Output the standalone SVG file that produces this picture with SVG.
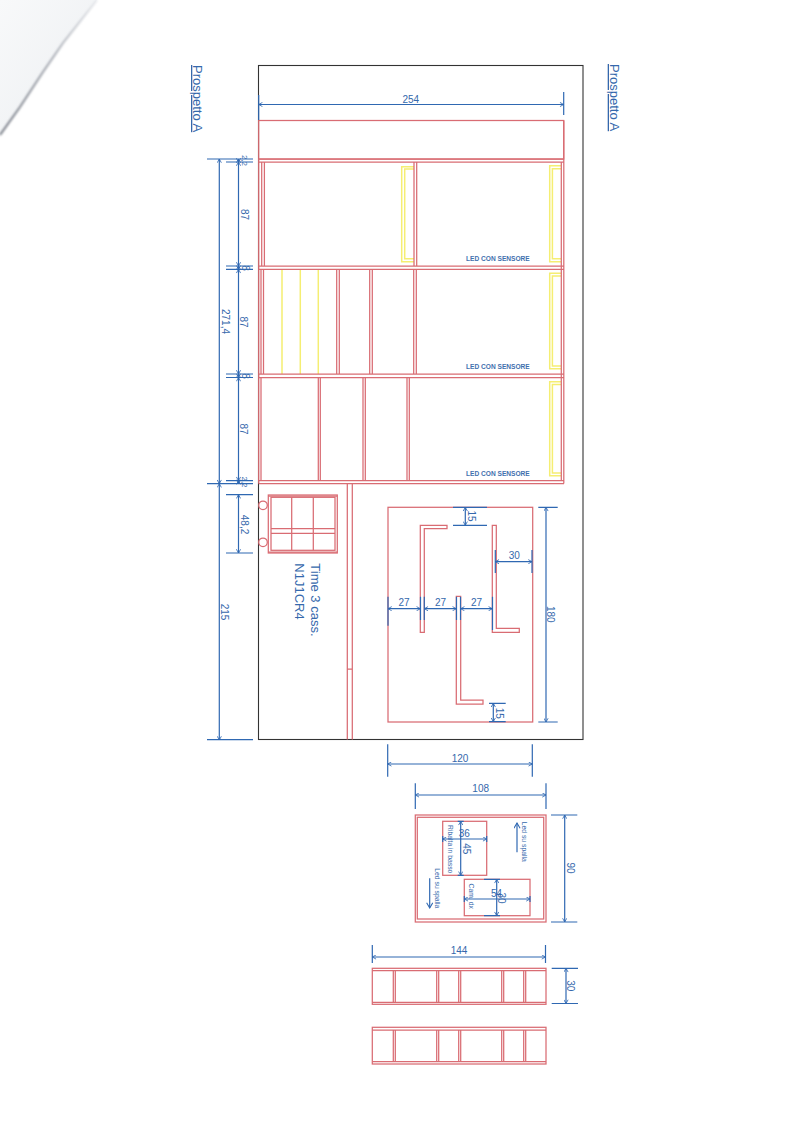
<svg xmlns="http://www.w3.org/2000/svg" width="794" height="1122" viewBox="0 0 794 1122">
<style>
.r{fill:none;stroke:#d96c73;stroke-width:1.25}
.y{fill:none;stroke:#f5ee72;stroke-width:1.5}
.k{fill:none;stroke:#333;stroke-width:1.1}
.d{fill:none;stroke:#2f68b2;stroke-width:1.2}
.dl{fill:none;stroke:#2f68b2;stroke-width:1.2;marker-start:url(#a);marker-end:url(#a)}
text{font-family:"Liberation Sans",Arial,sans-serif;fill:#3568ac}
.n{font-size:10px;text-anchor:middle}
.t{font-size:8px;text-anchor:middle}
.s{font-size:6.8px}
.led{font-size:6.6px;font-weight:bold;fill:#3f70ae}
.big{font-size:13px}
</style>
<defs>
<marker id="a" viewBox="0 0 6 6" refX="5.5" refY="3" markerWidth="5" markerHeight="5" orient="auto-start-reverse" markerUnits="userSpaceOnUse"><path d="M1 .5L5.5 3L1 5.5" fill="none" stroke="#2f68b2" stroke-width="1"/></marker>
<marker id="h" viewBox="0 0 8 8" refX="7" refY="4" markerWidth="7" markerHeight="7" orient="auto" markerUnits="userSpaceOnUse"><path d="M1 .5L7 4L1 7.5" fill="none" stroke="#2f68b2" stroke-width="1.2"/></marker>
<linearGradient id="sheet" x1="0" y1="0" x2="1" y2="1"><stop offset="0" stop-color="#f8f9fa"/><stop offset=".6" stop-color="#f1f3f5"/><stop offset="1" stop-color="#e6e8ec"/></linearGradient>
<linearGradient id="edge" gradientUnits="userSpaceOnUse" x1="0" y1="135" x2="97" y2="0"><stop offset="0" stop-color="#70757f"/><stop offset=".6" stop-color="#a9adb5"/><stop offset="1" stop-color="#e4e6ea"/></linearGradient>
<filter id="b" x="-30%" y="-30%" width="160%" height="160%"><feGaussianBlur stdDeviation="1.3"/></filter>
</defs>
<rect width="794" height="1122" fill="#fff"/>
<g id="scan-fold">
<path d="M0 0H97L63 43L43 72L20 107L0 135Z" fill="url(#sheet)"/>
<path d="M0 135L20 107L43 72L63 43L97 0" fill="none" stroke="url(#edge)" stroke-width="2" filter="url(#b)"/>
</g>
<g id="frame"><rect class="k" x="258.5" y="65.5" width="324.5" height="674"/></g>

<g id="led-strips">
<path class="y" d="M414 166.7H401.7V261.7H414M414 169H404.7V258.7H414"/>
<path class="y" d="M561 165.7H549.7V261.7H561M561 168.7H552.4V258.7H561"/>
<path class="y" d="M561 273.3H549.7V368.7H561M561 276H552.4V366H561"/>
<path class="y" d="M561 381.7H549.7V475.7H561M561 384.5H552.4V473H561"/>
<path class="y" d="M282 269.3V374M300.3 269.3V374M318.3 269.3V374"/>
</g>
<g id="upper-cabinet">
<rect class="r" x="258.7" y="120.5" width="305" height="38.5"/>
<path class="r" d="M258.7 159H564M258.7 162H564M258.7 266H564M258.7 269.3H564M258.7 374H564M258.7 377.5H564M258.7 480.7H564M258.7 483.5H564"/>
<path class="r" d="M258.7 159V483.5M563.8 120.5V483.5M561.3 162V480.7"/>
<path class="r" d="M261.7 162V266M264.4 162V266M414 162V266M416.7 162V266"/>
<path class="r" d="M261 269.3V374M263.5 269.3V374M336.7 269.3V374M339.3 269.3V374M369.7 269.3V374M372.3 269.3V374M413.7 269.3V374M416.3 269.3V374"/>
<path class="r" d="M261 377.5V480.7M318.3 377.5V480.7M320.3 377.5V480.7M363 377.5V480.7M365.3 377.5V480.7M407 377.5V480.7M409.3 377.5V480.7"/>
</g>
<g id="led-labels">
<text class="led" x="466" y="260.5">LED CON SENSORE</text>
<text class="led" x="466" y="368.5">LED CON SENSORE</text>
<text class="led" x="466" y="476">LED CON SENSORE</text>
</g>

<g id="lower-partition">
<path class="r" d="M347.3 483.5V739.5M352.3 483.5V739.5M347.3 669H352.3"/>
</g>
<g id="drawer-unit">
<rect class="r" x="268.3" y="495" width="69" height="58"/>
<rect class="r" x="271" y="497.3" width="64" height="53"/>
<path class="r" d="M268.3 496.2H337.3M268.3 552H337.3"/>
<path class="r" d="M291.7 497.3V550.3M313.3 497.3V550.3M271 528.7H335M271 533.3H335"/>
<circle class="r" cx="263" cy="505.3" r="4.3"/>
<circle class="r" cx="263" cy="542.3" r="4.3"/>
<text class="big" transform="translate(310.5 563.3) rotate(90)">Time 3 cass.</text>
<text class="big" transform="translate(295 563.3) rotate(90)">N1J1CR4</text>
</g>

<g id="plan-180x120">
<rect class="r" x="388" y="507.3" width="144.7" height="214.7"/>
<path class="r" d="M420.3 525.3H447V528.7H424.3V632.3H420.3Z"/>
<path class="r" d="M456.3 596.3H460.7V700H483V704H456.3Z"/>
<path class="r" d="M492.3 525.3H496.3V628.3H519.3V632.3H492.3Z"/>
</g>

<g id="plan-108x90">
<rect class="r" x="415.3" y="815" width="130.7" height="107"/>
<rect class="r" x="417.3" y="817.3" width="126.4" height="101.7"/>
<rect class="r" x="442.7" y="821.3" width="44" height="54"/>
<rect class="r" x="464.3" y="879.3" width="65.7" height="36.4"/>
<text class="s" transform="translate(448.3 825) rotate(90)">Ribalta in basso</text>
<text class="s" transform="translate(469 883.5) rotate(90)">Cam. dx</text>
<text class="s" transform="translate(522.3 821.7) rotate(90)">Led su spalla</text>
<text class="s" transform="translate(435 868.3) rotate(90)">Led su spalla</text>
<path class="d" d="M517 852.3V823" marker-end="url(#h)"/>
<path class="d" d="M429.7 878.3V908" marker-end="url(#h)"/>
</g>

<g id="elevation-top">
<rect class="r" x="372.3" y="968.3" width="173.7" height="36"/>
<path class="r" d="M372.3 970.7H546M372.3 1002.3H546M393.3 970.7V1002.3M395.3 970.7V1002.3M436.7 970.7V1002.3M438.7 970.7V1002.3M458.7 970.7V1002.3M460.7 970.7V1002.3M501.7 970.7V1002.3M503.7 970.7V1002.3M523.7 970.7V1002.3M525.7 970.7V1002.3"/>
</g>
<g id="elevation-bottom">
<rect class="r" x="372.3" y="1027.3" width="173.7" height="36.7"/>
<path class="r" d="M372.3 1030H546M372.3 1061.7H546M393.3 1030V1061.7M395.3 1030V1061.7M436.7 1030V1061.7M438.7 1030V1061.7M458.7 1030V1061.7M460.7 1030V1061.7M501.7 1030V1061.7M503.7 1030V1061.7M523.7 1030V1061.7M525.7 1030V1061.7"/>
</g>

<g id="connectors">
<path class="dl" d="M258.7 104.5H563.7"/>
<path class="d" d="M258.7 95V120M563.7 92V115"/>
<path class="d" d="M207 159H253M226 162H253M226 266H253M226 269.3H253M226 374H253M226 377.5H253M207 483.7H253M226 480.7H253M226 494.7H253M226 553H253M207 739.7H253"/>
<path class="dl" d="M219.3 159V483.7"/>
<path class="dl" d="M219.3 483.7V740"/>
<path class="dl" d="M238.5 159V162"/>
<path class="dl" d="M238.5 162V266"/>
<path class="dl" d="M238.5 266V269.3"/>
<path class="dl" d="M238.5 269.3V374"/>
<path class="dl" d="M238.5 374V377.5"/>
<path class="dl" d="M238.5 377.5V480.7"/>
<path class="dl" d="M238.5 480.7V483.5"/>
<path class="dl" d="M238.5 494.7V553"/>
<path class="dl" d="M388 608.7H420.3"/>
<path class="dl" d="M424.3 608.7H456.3"/>
<path class="dl" d="M460.7 608.7H492.3"/>
<path class="d" d="M388 596.7V625.7M420.5 596.7V620M424.3 596.7V620M456.5 596.7V620M460.5 596.7V620M492.5 596.7V630"/>
<path class="dl" d="M495.3 561.7H532"/>
<path class="d" d="M495.3 550V573M532 550V573"/>
<path class="dl" d="M465.3 507.3V525.3"/>
<path class="d" d="M453 507.3H487M453 525.3H487"/>
<path class="dl" d="M493.3 703.3V721.7"/>
<path class="d" d="M489 703.3H505.7M489 721.7H505.7"/>
<path class="dl" d="M546 507.3V722"/>
<path class="d" d="M538.3 507.3H557.7M538.3 722H557.7"/>
<path class="dl" d="M387.7 764H532.3"/>
<path class="d" d="M387.7 744.3V776.7M532.3 744.3V776.7"/>
<path class="dl" d="M415.3 795H546"/>
<path class="d" d="M415.3 783.3V809M546 783.3V809"/>
<path class="dl" d="M564.7 815V922"/>
<path class="d" d="M551 815H577.3M551 922H577.3"/>
<path class="dl" d="M442.7 839H486.7"/>
<path class="d" d="M442.7 836V842M486.7 836V842"/>
<path class="dl" d="M460.7 821.3V875.3"/>
<path class="d" d="M457.7 821.3H463.7M457.7 875.3H463.7"/>
<path class="dl" d="M464.3 899H530"/>
<path class="d" d="M464.3 896V902M530 896V902"/>
<path class="dl" d="M496.7 879.3V915.7"/>
<path class="d" d="M484 879.3H500M484 915.7H500"/>
<path class="dl" d="M372.3 957H545.5"/>
<path class="d" d="M372.3 945V963M545.5 945V963"/>
<path class="dl" d="M566 968.3V1003.5"/>
<path class="d" d="M551.7 968.3H578M551.7 1003.5H578"/>
</g>

<g id="dimension-labels">
<text class="big" transform="translate(193.3 65) rotate(90)" text-decoration="underline">Prospetto A</text>
<text class="big" transform="translate(610 64) rotate(90)" text-decoration="underline">Prospetto A</text>
<text class="n" x="410.8" y="102.7">254</text>
<text class="t" transform="translate(241.5 160.5) rotate(90)">2,2</text>
<text class="n" transform="translate(241 214.5) rotate(90)">87</text>
<text class="n" transform="translate(242 268) rotate(90)">8</text>
<text class="n" transform="translate(240 322) rotate(90)">87</text>
<text class="n" transform="translate(242 376) rotate(90)">8</text>
<text class="n" transform="translate(240 429) rotate(90)">87</text>
<text class="t" transform="translate(241.5 482) rotate(90)">2,2</text>
<text class="n" transform="translate(222 321.5) rotate(90)">271,4</text>
<text class="n" transform="translate(241 524.5) rotate(90)">48,2</text>
<text class="n" transform="translate(221 612) rotate(90)">215</text>
<text class="n" x="404" y="606">27</text>
<text class="n" x="440.5" y="606">27</text>
<text class="n" x="476.5" y="606">27</text>
<text class="n" x="514.3" y="559">30</text>
<text class="n" transform="translate(467.7 516) rotate(90)">15</text>
<text class="n" transform="translate(495.7 713.3) rotate(90)">15</text>
<text class="n" transform="translate(547.3 614.3) rotate(90)">180</text>
<text class="n" x="460" y="762">120</text>
<text class="n" x="480.7" y="792.3">108</text>
<text class="n" transform="translate(566.5 868) rotate(90)">90</text>
<text class="n" x="464.3" y="837.3">36</text>
<text class="n" transform="translate(462.7 848.7) rotate(90)">45</text>
<text class="n" x="496.5" y="897">54</text>
<text class="n" transform="translate(498 898) rotate(90)">30</text>
<text class="n" x="459" y="953.7">144</text>
<text class="n" transform="translate(567.3 985.7) rotate(90)">30</text>
</g>
</svg>
